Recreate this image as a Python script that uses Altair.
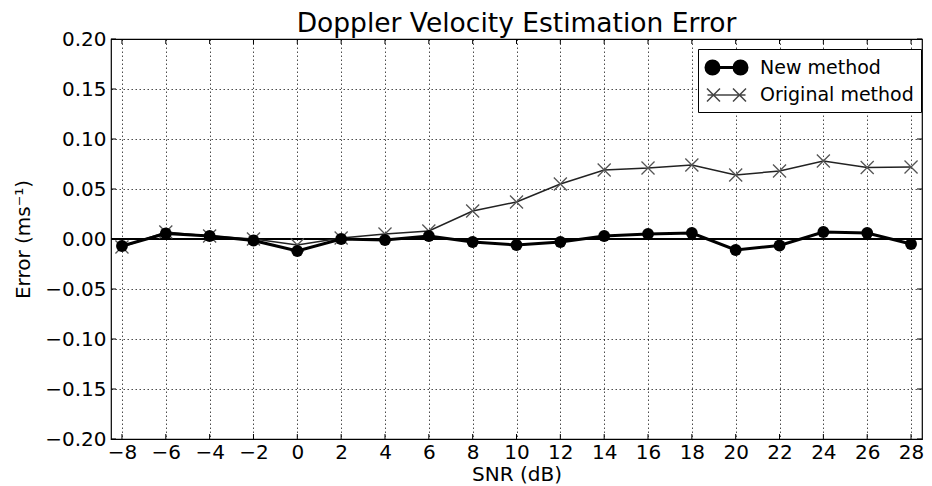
import altair as alt
import pandas as pd

snr = [-8, -6, -4, -2, 0, 2, 4, 6, 8, 10, 12, 14, 16, 18, 20, 22, 24, 26, 28]
new_method = [-0.007, 0.0055, 0.003, -0.0015, -0.012, 0.000, -0.001, 0.003, -0.003,
              -0.006, -0.003, 0.003, 0.005, 0.006, -0.011, -0.0065, 0.007, 0.006, -0.005]
original_method = [-0.008, 0.007, 0.003, 0.000, -0.006, 0.001, 0.005, 0.008, 0.028,
                   0.037, 0.055, 0.069, 0.071, 0.074, 0.064, 0.068, 0.078, 0.0715, 0.072]
series_names = ["New method", "Original method"]
x_ticks = [-8, -6, -4, -2, 0, 2, 4, 6, 8, 10, 12, 14, 16, 18, 20, 22, 24, 26, 28]
y_ticks = [-0.20, -0.15, -0.10, -0.05, 0.00, 0.05, 0.10, 0.15, 0.20]

df = pd.DataFrame({
    "snr": snr + snr,
    "value": new_method + original_method,
    "series": [series_names[0]] * len(snr) + [series_names[1]] * len(snr),
})
xt_df = pd.DataFrame({"snr": x_ticks})
yt_df = pd.DataFrame({"value": y_ticks})

FONT = "DejaVu Sans"
MINUS = "replace(datum.label, '-', '\u2212')"
W, H = 811, 400

x_enc = alt.X("snr:Q",
              scale=alt.Scale(domain=[-8.5, 28.5], nice=False, zero=False),
              axis=alt.Axis(values=x_ticks, format="d", title="SNR (dB)",
                            labelExpr=MINUS, labelPadding=3, titlePadding=2))
y_enc = alt.Y("value:Q",
              scale=alt.Scale(domain=[-0.2, 0.2], nice=False, zero=False),
              axis=alt.Axis(values=y_ticks, format=".2f", title="Error (ms⁻¹)",
                            labelExpr=MINUS, labelPadding=5, titlePadding=11))

base = alt.Chart(df).encode(x=x_enc, y=y_enc)

zero_line = alt.Chart(df).mark_rule(color="black", strokeWidth=1.5).encode(y=alt.datum(0))

# inward tick marks on the frame (matplotlib classic style)
TICK = 5
xt_bottom = alt.Chart(xt_df).mark_rule(color="black", strokeWidth=1).encode(
    x=x_enc, y=alt.value(H), y2=alt.value(H - TICK))
xt_top = alt.Chart(xt_df).mark_rule(color="black", strokeWidth=1).encode(
    x=x_enc, y=alt.value(0), y2=alt.value(TICK))
yt_left = alt.Chart(yt_df).mark_rule(color="black", strokeWidth=1).encode(
    y=y_enc, x=alt.value(0), x2=alt.value(TICK))
yt_right = alt.Chart(yt_df).mark_rule(color="black", strokeWidth=1).encode(
    y=y_enc, x=alt.value(W), x2=alt.value(W - TICK))

new_df = base.transform_filter(alt.datum.series == series_names[0])
orig_df = base.transform_filter(alt.datum.series == series_names[1])

orig_line = orig_df.mark_line(color="#222222", strokeWidth=1.5)
orig_pts = orig_df.mark_point(shape="M-1,-1L1,1M-1,1L1,-1", size=170, color="#555555",
                              strokeWidth=1.3, filled=False, opacity=1)
new_line = new_df.mark_line(color="black", strokeWidth=3)
new_pts = new_df.mark_circle(size=140, color="black", opacity=1)

path_new = ("M-1.9,0L1.9,0"
            "M-2.05,0a0.65,0.65 0 1,0 1.3,0a0.65,0.65 0 1,0 -1.3,0"
            "M0.75,0a0.65,0.65 0 1,0 1.3,0a0.65,0.65 0 1,0 -1.3,0")
path_orig = ("M-1.9,0L1.9,0"
             "M-1.95,-0.65L-0.65,0.65M-1.95,0.65L-0.65,-0.65"
             "M0.65,-0.65L1.95,0.65M0.65,0.65L1.95,-0.65")

legend_layer = base.mark_point(filled=True, size=400).encode(
    shape=alt.Shape("series:N", title=None,
                    scale=alt.Scale(domain=series_names, range=[path_new, path_orig])),
    fill=alt.Fill("series:N", title=None,
                  scale=alt.Scale(domain=series_names, range=["black", "black"])),
    stroke=alt.Stroke("series:N", title=None,
                      scale=alt.Scale(domain=series_names, range=["black", "#444444"])),
    strokeWidth=alt.StrokeWidth("series:N", title=None,
                                scale=alt.Scale(domain=series_names, range=[3, 1.5])),
    opacity=alt.value(0),
)

chart = alt.layer(
    zero_line, xt_bottom, xt_top, yt_left, yt_right,
    orig_line, orig_pts, new_line, new_pts, legend_layer
).properties(
    width=W,
    height=H,
    title=alt.TitleParams("Doppler Velocity Estimation Error", fontSize=26.5, font=FONT,
                          fontWeight="normal", anchor="middle", offset=5, dy=13,
                          color="black", frame="group"),
    autosize=alt.AutoSizeParams(type="none"),
    padding={"left": 103, "top": 31, "right": 2, "bottom": 45},
).configure_view(
    stroke="black", strokeWidth=1.2
).configure_axis(
    domain=False, ticks=False,
    labelFont=FONT, labelFontSize=20, labelColor="black",
    titleFont=FONT, titleFontSize=20, titleFontWeight="normal", titleColor="black",
    grid=True, gridColor="black", gridDash=[1.5, 2.5], gridWidth=1, gridOpacity=0.7,
).configure_legend(
    orient="none", legendX=587, legendY=10, padding=7,
    strokeColor="black", fillColor="white", cornerRadius=0,
    labelFont=FONT, labelFontSize=19, labelColor="black",
    symbolSize=400, symbolOffset=10, labelOffset=22, rowPadding=4,
    symbolOpacity=1,
)

chart.save("out.html", embed_options={"renderer": "svg", "actions": False})
